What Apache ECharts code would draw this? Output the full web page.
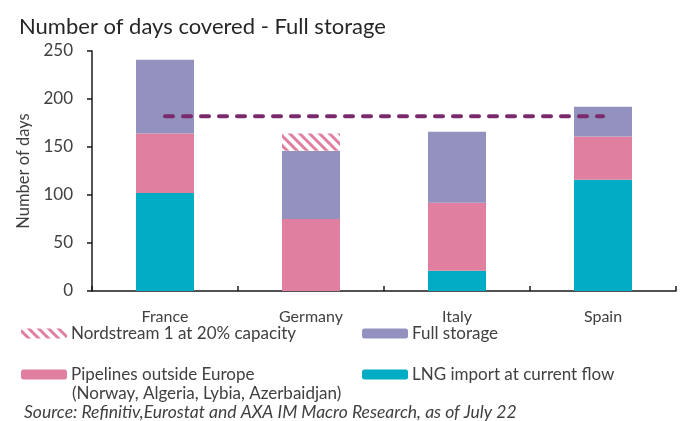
<!DOCTYPE html>
<html>
<head>
<meta charset="utf-8">
<script src="https://cdn.jsdelivr.net/npm/echarts@6/dist/echarts.min.js"></script>
<style>
  html, body { margin: 0; padding: 0; background: #fff; }
  #chart { width: 690px; height: 421px; }
</style>
</head>
<body>
<div id="chart"></div>
<script>
// countries
const countries = ["France", "Germany", "Italy", "Spain"];
// days covered
const lngImport = [102, 0, 21, 116];
const pipelines = [62, 75, 71, 45];
const fullStorage = [77, 71, 74, 31];
const nordstream = [0, 18, 0, 0];
const refLine = [182, 182, 182, 182];
const yTicks = [0, 50, 100, 150, 200, 250];

const FONT = "Lato";
const TXT = "#404040";
const TEAL = "#00acc3";
const PINK = "#e07fa0";
const PURPLE = "#9391bd";

const chart = echarts.init(document.getElementById("chart"));

const legendBase = {
  orient: "horizontal",
  itemWidth: 46,
  itemHeight: 10,
  itemGap: 4,
  selectedMode: false,
  textStyle: { fontFamily: FONT, fontSize: 17, color: TXT, padding: [0, 0, 0, -1] }
};

chart.setOption({
  animation: false,
  title: [
    {
      text: "Number of days covered - Full storage",
      left: 14, top: 11,
      textStyle: { fontFamily: FONT, fontSize: 22, fontWeight: "normal", color: "#262626" }
    },
    {
      text: "(Norway, Algeria, Lybia, Azerbaidjan)",
      left: 72, top: 385, padding: 0,
      textStyle: { fontFamily: FONT, fontSize: 17, fontWeight: "normal", color: TXT }
    },
    {
      text: "Source: Refinitiv,Eurostat and AXA IM Macro Research, as of July 22",
      left: 24, top: 403, padding: 0,
      textStyle: { fontFamily: FONT, fontSize: 17.5, fontStyle: "italic", fontWeight: "normal", color: TXT }
    }
  ],
  legend: [
    Object.assign({}, legendBase, { left: 16, top: 320, data: ["Nordstream 1 at 20% capacity"] }),
    Object.assign({}, legendBase, { left: 357, top: 320, data: ["Full storage"] }),
    Object.assign({}, legendBase, { left: 16, top: 361, data: ["Pipelines outside Europe"] }),
    Object.assign({}, legendBase, { left: 357, top: 361, data: ["LNG import at current flow"] })
  ],
  grid: { left: 92, right: 14, top: 51, bottom: 130 },
  xAxis: {
    type: "category",
    data: countries,
    axisLine: { lineStyle: { color: "#1a1a1a", width: 1.5 } },
    axisTick: { show: true, inside: true, length: 5, interval: 0, lineStyle: { color: "#1a1a1a", width: 1.5 } },
    axisLabel: { fontFamily: FONT, fontSize: 16, color: TXT, margin: 18 }
  },
  yAxis: {
    type: "value",
    min: yTicks[0],
    max: yTicks[yTicks.length - 1],
    interval: 50,
    name: "Number of days",
    nameLocation: "middle",
    nameGap: 57,
    nameTextStyle: { fontFamily: FONT, fontSize: 16.5, color: TXT },
    splitLine: { show: false },
    axisLine: { show: true, lineStyle: { color: "#1a1a1a", width: 1.5 } },
    axisTick: { show: true, length: 5, lineStyle: { color: "#1a1a1a", width: 1.5 } },
    axisLabel: { fontFamily: FONT, fontSize: 17, color: TXT, margin: 19 }
  },
  series: [
    {
      name: "LNG import at current flow",
      type: "bar", stack: "days", barWidth: 58,
      itemStyle: { color: TEAL },
      data: lngImport
    },
    {
      name: "Pipelines outside Europe",
      type: "bar", stack: "days", barWidth: 58,
      itemStyle: { color: PINK },
      data: pipelines
    },
    {
      name: "Full storage",
      type: "bar", stack: "days", barWidth: 58,
      itemStyle: { color: PURPLE },
      data: fullStorage
    },
    {
      name: "Nordstream 1 at 20% capacity",
      type: "bar", stack: "days", barWidth: 58,
      itemStyle: {
        color: "#ffffff",
        decal: {
          symbol: "rect",
          color: PINK,
          backgroundColor: "#ffffff",
          dashArrayX: [1, 0],
          dashArrayY: [3, 4],
          rotation: Math.PI / 4
        }
      },
      data: nordstream
    },
    {
      name: "Nordstream threshold",
      type: "line",
      symbol: "none",
      silent: true,
      lineStyle: { color: "#7b2a6e", width: 4, type: [8, 10], cap: "round" },
      data: refLine,
      z: 5
    }
  ]
});
</script>
</body>
</html>
